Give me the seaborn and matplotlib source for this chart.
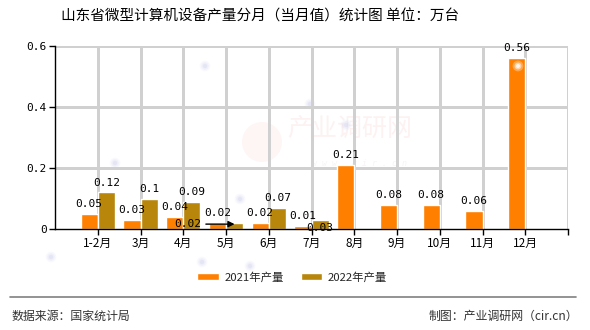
import numpy as np
import pandas as pd
import matplotlib
matplotlib.use("Agg")
import matplotlib.pyplot as plt
from matplotlib.patches import Ellipse
import seaborn as sns

# Monthly output of micro computers in Shandong (10k units)
months = ["1-2月", "3月", "4月", "5月", "6月", "7月", "8月", "9月", "10月", "11月", "12月"]
output_2021 = [0.05, 0.03, 0.04, 0.02, 0.02, 0.01, 0.21, 0.08, 0.08, 0.06, 0.56]
output_2022 = [0.12, 0.10, 0.09, 0.02, 0.07, 0.03, np.nan, np.nan, np.nan, np.nan, np.nan]
series_names = ["2021年产量", "2022年产量"]
colors = ["#FF8000", "#B8860B"]
y_ticks = [0, 0.2, 0.4, 0.6]
y_tick_labels = ["0", "0.2", "0.4", "0.6"]

df = pd.DataFrame({
    "月份": months * 2,
    "产量": output_2021 + output_2022,
    "系列": [series_names[0]] * len(months) + [series_names[1]] * len(months),
})

sns.set_theme(style="white")
plt.rcParams["font.family"] = ["Noto Sans CJK SC", "DejaVu Sans"]
plt.rcParams["axes.unicode_minus"] = False

W, H = 590, 330
fig = plt.figure(figsize=(W / 100, H / 100), dpi=100)
ax = fig.add_axes([55 / W, 1 - 229 / H, (568 - 55) / W, (229 - 46) / H])

sns.barplot(data=df, x="月份", y="产量", hue="系列", order=months,
            hue_order=series_names, palette=colors, width=0.8,
            saturation=1, ax=ax, zorder=2, legend=True)

ax.set_xlabel("")
ax.set_ylabel("")
ax.set_xlim(-1, len(months))
ax.set_ylim(0, 0.6)

# ticks: one per month plus one closing the right edge
ax.set_xticks(range(len(months) + 1))
ax.set_xticklabels(months + [""], fontsize=8.5, color="#000000")
ax.set_yticks(y_ticks)
ax.set_yticklabels(y_tick_labels, family="DejaVu Sans Mono", fontsize=8, color="#000000")
ax.tick_params(axis="x", bottom=True, direction="out", length=4, width=1,
               color="#000000", pad=2)
ax.tick_params(axis="y", left=True, direction="out", length=4, width=1,
               color="#000000", pad=2)
for side in ["top", "right"]:
    ax.spines[side].set_visible(False)
for side in ["left", "bottom"]:
    ax.spines[side].set_color("#000000")
    ax.spines[side].set_linewidth(1.0)

# light grid just under the bars: vertical at the x ticks, horizontal at the y ticks
grid_color = "#D0D0D0"
for t in ax.get_xticks():
    ax.axvline(t, color=grid_color, linewidth=1.0, zorder=1.9, antialiased=False)
for t in y_ticks[1:]:
    ax.axhline(t, color=grid_color, linewidth=1.0, zorder=1.9, antialiased=False)

# value labels over each bar
label_font = dict(family="DejaVu Sans Mono", fontsize=8, color="#000000")
for si, cont in enumerate(ax.containers):
    for bar in cont:
        h = bar.get_height()
        if h is None or np.isnan(h):
            continue
        cx = bar.get_x() + bar.get_width() / 2
        text = f"{h:g}"
        month_idx = int(round(cx))
        if si == 1 and months[month_idx] == "5月":
            # crowded spot: label pushed left with a leader arrow
            ax.annotate(text, xy=(cx, h * 0.8), xytext=(cx - 0.78, h * 0.8),
                        ha="right", va="center", zorder=5,
                        arrowprops=dict(arrowstyle="-|>", color="#000000",
                                        lw=1.0, shrinkA=1, shrinkB=0,
                                        mutation_scale=9),
                        **label_font)
        elif si == 1 and months[month_idx] == "7月":
            ax.text(cx, h * 0.15, text, ha="center", va="center", zorder=5, **label_font)
        else:
            ax.annotate(text, xy=(cx, h), xytext=(0, 3.5), textcoords="offset points",
                        ha="center", va="bottom", zorder=5, **label_font)

# faint watermark behind the grid
ax.text(350 / W, 1 - 129 / H, "产业调研网", transform=fig.transFigure, ha="center",
        va="center", fontsize=18, color="#FDF2F2", zorder=0.1)
ax.text(360 / W, 1 - 164 / H, "w w w . c i r . c n", transform=fig.transFigure,
        ha="center", va="center", fontsize=6, color="#F8F4F4", style="italic",
        family="DejaVu Sans Mono", zorder=0.1)
ax.add_patch(Ellipse((262 / W, 1 - 142 / H), 40 / W, 40 / H, transform=fig.transFigure,
                     facecolor="#FEF6F4", edgecolor="none", zorder=0.1))

# soft bluish specks
specks_x = [205, 115, 240, 310, 346, 51, 202, 250]
specks_y = [66, 163, 199, 104, 125, 257, 262, 266]
for s, a in [(60, 0.10), (30, 0.18), (10, 0.25)]:
    ax.scatter(np.array(specks_x) / W, 1 - np.array(specks_y) / H, s=s,
               color="#C8CAEC", alpha=a, edgecolors="none",
               transform=fig.transFigure, zorder=0.2, clip_on=False)
for s, a in [(60, 0.3), (25, 0.5), (8, 0.8)]:
    ax.scatter([518 / W], [1 - 66 / H], s=s, color="#FFFFFF", alpha=a,
               edgecolors="none", transform=fig.transFigure, zorder=3)

ax.set_xlim(-1, len(months))
ax.set_ylim(0, 0.6)

# legend below the plot
ax.legend_.remove()
handles, labels = ax.get_legend_handles_labels()
fig.legend(handles[:2], labels[:2], loc="center", bbox_to_anchor=(0.495, 1 - 277 / H),
           ncol=2, frameon=False, fontsize=8.2, handlelength=1.9, handleheight=0.62,
           handletextpad=0.5, columnspacing=1.5)

fig.text(0.44, 1 - 17 / H, "山东省微型计算机设备产量分月（当月值）统计图 单位：万台",
         ha="center", va="center", fontsize=10.5, color="#000000")

fig.add_artist(plt.Line2D([10 / W, 576 / W], [1 - 297 / H, 1 - 297 / H],
                          transform=fig.transFigure, color="#808080", linewidth=1.2))
fig.text(12 / W, 1 - 316 / H, "数据来源：国家统计局", ha="left", va="center",
         fontsize=8.6, color="#333333")
fig.text(578 / W, 1 - 316 / H, "制图：产业调研网（cir.cn）", ha="right", va="center",
         fontsize=8.6, color="#333333")

fig.savefig("out.png", dpi=100)
